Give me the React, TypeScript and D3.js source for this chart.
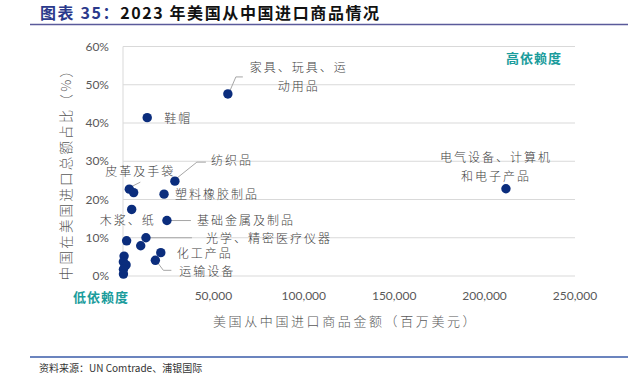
import React from "react";
import * as d3 from "d3";

const names = [
  "家具、玩具、运动用品", "鞋帽", "纺织品", "皮革及手袋", "", "塑料橡胶制品", "木浆、纸",
  "基础金属及制品", "", "光学、精密医疗仪器", "", "化工产品", "运输设备",
  "", "", "", "", "", "电气设备、计算机和电子产品",
];
const importValue = [
  58000, 13400, 28700, 3500, 5900, 22700, 4800,
  24300, 2000, 12700, 9800, 20900, 17900,
  600, 200, 1700, 250, 250, 211800,
];
const chinaShare = [
  0.476, 0.414, 0.248, 0.227, 0.218, 0.214, 0.174,
  0.145, 0.092, 0.100, 0.079, 0.061, 0.041,
  0.052, 0.037, 0.029, 0.0175, 0.005, 0.228,
];
const xTicks = [50000, 100000, 150000, 200000, 250000];
const yTicks = [0, 0.1, 0.2, 0.3, 0.4, 0.5, 0.6];

// label layout: index, lines, offset from point, anchor, leader polyline offsets
const labelDefs = [
  { i: 0, lines: ["家具、玩具、运", "动用品"], dx: 71, dy: -26, lh: 19, anchor: "middle", leader: [[2, -3], [8, -17], [15, -17]] },
  { i: 1, lines: ["鞋帽"], dx: 17, dy: 1, lh: 0, anchor: "start", leader: null },
  { i: 2, lines: ["纺织品"], dx: 36, dy: -20, lh: 0, anchor: "start", leader: [[2, -3], [22, -19], [31, -19]] },
  { i: 3, lines: ["皮革及手袋"], dx: -24, dy: -17, lh: 0, anchor: "start", leader: [[3, -3], [11, -7]] },
  { i: 5, lines: ["塑料橡胶制品"], dx: 11, dy: 1, lh: 0, anchor: "start", leader: null },
  { i: 6, lines: ["木浆、纸"], dx: 24, dy: 11, lh: 0, anchor: "end", leader: null },
  { i: 7, lines: ["基础金属及制品"], dx: 30, dy: 0, lh: 0, anchor: "start", leader: [[4, 0], [24, 0]] },
  { i: 9, lines: ["光学、精密医疗仪器"], dx: 60, dy: 1, lh: 0, anchor: "start", leader: [[4, 0], [46, 0]] },
  { i: 11, lines: ["化工产品"], dx: 16, dy: 1, lh: 0, anchor: "start", leader: null },
  { i: 12, lines: ["运输设备"], dx: 24, dy: 11, lh: 0, anchor: "start", leader: [[2, 2], [8, 10], [16, 10]] },
  { i: 18, lines: ["电气设备、计算机", "和电子产品"], dx: -10, dy: -31, lh: 19, anchor: "middle", leader: null },
];

const CJK = "'Noto Sans CJK SC', sans-serif";
const LAT = "Lato, 'Open Sans', sans-serif";

export default function App() {
  const W = 641, H = 379;
  const x = d3.scaleLinear().domain([0, 250000]).range([123, 575]);
  const y = d3.scaleLinear().domain([0, 0.6]).range([276, 46.5]);
  const fmtX = d3.format(",");
  const fmtY = d3.format(".0%");
  const labelColor = "#404040";
  const dotColor = "#0B2D7D";

  return (
    <svg width={W} height={H} style={{ position: "absolute", left: 0, top: 0, background: "#fff" }}>
      {/* title */}
      <text x={40} y={19} fontFamily={CJK} fontSize={16} fontWeight={700} letterSpacing={1.6}>
        <tspan fill="#2B3A8C">图表 35：</tspan>
        <tspan fill="#111">2023 年美国从中国进口商品情况</tspan>
      </text>
      <line x1={30} x2={628} y1={24.5} y2={24.5} stroke="#5A5A9A" strokeWidth={1.5} />

      {/* grid */}
      {yTicks.map((t) => (
        <line key={t} x1={x(0)} x2={x(250000)} y1={y(t)} y2={y(t)} stroke="#D9D9D9" strokeWidth={1} />
      ))}
      <line x1={x(0)} x2={x(0)} y1={y(0.6)} y2={y(0)} stroke="#D9D9D9" strokeWidth={1} />

      {/* y ticks */}
      {yTicks.map((t) => (
        <text key={t} x={109} y={y(t)} dy="0.35em" textAnchor="end" fontFamily={LAT} fontSize={12} fill="#595959">
          {fmtY(t)}
        </text>
      ))}
      {/* x ticks */}
      {xTicks.map((t) => (
        <text key={t} x={x(t)} y={300} textAnchor="middle" fontFamily={LAT} fontSize={12} fill="#595959">
          {fmtX(t)}
        </text>
      ))}

      {/* axis titles */}
      <text x={213} y={326} textAnchor="start" fontFamily={CJK} fontSize={13} fontWeight={300} fill="#595959" letterSpacing={2.6}>
        美国从中国进口商品金额（百万美元）
      </text>
      <text transform="translate(71,171) rotate(-90)" textAnchor="middle" fontFamily={CJK} fontSize={13.5} fontWeight={300} fill="#595959" letterSpacing={2.2}>
        中国在美国进口总额占比（%）
      </text>

      {/* dependency labels */}
      <text x={73} y={302} fontFamily={CJK} fontSize={13} fontWeight={700} fill="#1A9C9C" letterSpacing={1}>低依赖度</text>
      <text x={506} y={63} fontFamily={CJK} fontSize={13} fontWeight={700} fill="#1A9C9C" letterSpacing={1}>高依赖度</text>

      {/* leaders */}
      {labelDefs.filter((d) => d.leader).map((d) => {
        const px = x(importValue[d.i]);
        const py = y(chinaShare[d.i]);
        const pts = (d.leader as number[][]).map(([a, b]) => [px + a, py + b] as [number, number]);
        return <path key={"l" + d.i} d={d3.line()(pts) || ""} fill="none" stroke="#A6A6A6" strokeWidth={1} />;
      })}

      {/* points */}
      {importValue.map((v, i) => (
        <circle key={i} cx={x(v)} cy={y(chinaShare[i])} r={4.7} fill={dotColor} />
      ))}

      {/* labels */}
      {labelDefs.map((d) => {
        const px = x(importValue[d.i]);
        const py = y(chinaShare[d.i]);
        return (
          <text key={"t" + d.i} textAnchor={d.anchor as any} fontFamily={CJK} fontSize={12} fontWeight={300} fill={labelColor} letterSpacing={2}>
            {d.lines.map((ln, k) => (
              <tspan key={k} x={px + d.dx} y={py + d.dy + k * d.lh} dy="0.35em">{ln}</tspan>
            ))}
          </text>
        );
      })}

      {/* footer */}
      <line x1={30} x2={628} y1={357} y2={357} stroke="#3A5BA8" strokeWidth={1.5} />
      <text x={39} y={372} fontFamily={CJK} fontSize={10} fill="#333">资料来源：UN Comtrade、浦银国际</text>
    </svg>
  );
}
